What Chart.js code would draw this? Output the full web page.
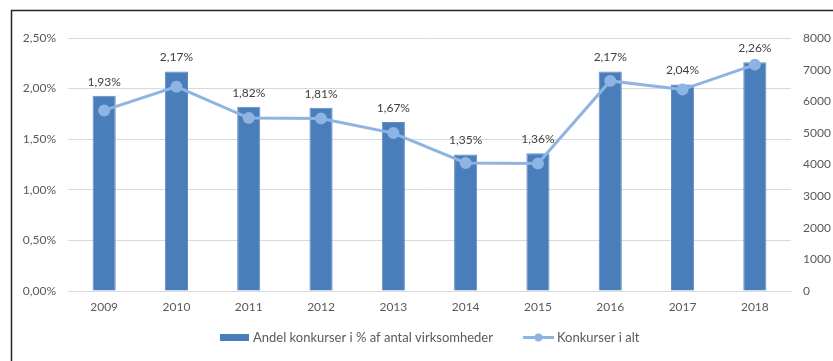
<!DOCTYPE html>
<html>
<head>
<meta charset="utf-8">
<script src="https://cdn.jsdelivr.net/npm/chart.js@4.4.0/dist/chart.umd.min.js"></script>
<style>
  html, body { margin: 0; padding: 0; background: #fff; }
  canvas { display: block; }
</style>
</head>
<body>
<canvas id="konkursChart" width="833" height="361"></canvas>
<script>
const years = ['2009', '2010', '2011', '2012', '2013', '2014', '2015', '2016', '2017', '2018'];
const andelPct = [1.93, 2.17, 1.82, 1.81, 1.67, 1.35, 1.36, 2.17, 2.04, 2.26];
const konkurserIAlt = [5710, 6461, 5468, 5456, 4993, 4049, 4029, 6643, 6369, 7158];
const pctTicks = [0, 0.5, 1, 1.5, 2, 2.5];

const FONT = 'Lato, "Open Sans", sans-serif';
const fmtPct = v => v.toFixed(2).replace('.', ',') + '%';

// frame lines, value labels above bars and a hand-drawn legend
const extras = {
  id: 'extras',
  beforeDraw(chart) {
    const ctx = chart.ctx;
    ctx.save();
    ctx.fillStyle = '#fff';
    ctx.fillRect(0, 0, chart.width, chart.height);
    ctx.strokeStyle = '#262626';
    ctx.lineWidth = 1.5;
    ctx.beginPath();
    ctx.moveTo(11.5, chart.height);
    ctx.lineTo(11.5, 10.5);
    ctx.lineTo(chart.width, 10.5);
    ctx.stroke();
    ctx.restore();
  },
  afterDatasetsDraw(chart) {
    const ctx = chart.ctx;
    const bars = chart.getDatasetMeta(0).data;
    ctx.save();
    ctx.font = '12px ' + FONT;
    ctx.fillStyle = '#404040';
    ctx.textAlign = 'center';
    ctx.textBaseline = 'middle';
    bars.forEach((bar, i) => {
      ctx.fillText(fmtPct(andelPct[i]), bar.x, bar.y - 14);
    });

    // legend
    const barDs = chart.data.datasets[0];
    const lineDs = chart.data.datasets[1];
    const ly = 337.5;
    ctx.font = '13px ' + FONT;
    ctx.textAlign = 'left';
    ctx.fillStyle = barDs.backgroundColor;
    ctx.fillRect(220, ly - 3.5, 29, 7);
    ctx.fillStyle = '#595959';
    ctx.fillText(barDs.label, 253, ly);

    ctx.strokeStyle = lineDs.borderColor;
    ctx.lineWidth = lineDs.borderWidth;
    ctx.beginPath();
    ctx.moveTo(523, ly);
    ctx.lineTo(554, ly);
    ctx.stroke();
    ctx.fillStyle = lineDs.pointBackgroundColor;
    ctx.beginPath();
    ctx.arc(538.5, ly, 4, 0, Math.PI * 2);
    ctx.fill();
    ctx.fillStyle = '#595959';
    ctx.fillText(lineDs.label, 557, ly);
    ctx.restore();
  }
};

const ctx = document.getElementById('konkursChart');
const chart = new Chart(ctx, {
  type: 'bar',
  data: {
    labels: years,
    datasets: [{
      label: 'Andel konkurser i % af antal virksomheder',
      data: andelPct,
      yAxisID: 'y',
      backgroundColor: '#4a7ebb',
      borderColor: '#5f8cc3',
      borderWidth: 1,
      barPercentage: 0.32,
      categoryPercentage: 1,
      order: 1
    }, {
      type: 'line',
      label: 'Konkurser i alt',
      data: konkurserIAlt,
      yAxisID: 'y1',
      borderColor: '#8db4e2',
      backgroundColor: '#8db4e2',
      pointBackgroundColor: '#8db4e2',
      pointBorderColor: '#8db4e2',
      borderWidth: 3,
      pointRadius: 4.5,
      tension: 0,
      order: 0
    }]
  },
  options: {
    responsive: false,
    devicePixelRatio: 1,
    animation: false,
    layout: { padding: { top: 38, bottom: 40, left: 0, right: 0 } },
    plugins: {
      legend: { display: false },
      tooltip: { enabled: false }
    },
    scales: {
      x: {
        grid: { display: false, drawTicks: false },
        border: { color: '#d9d9d9', width: 1 },
        ticks: { color: '#595959', font: { family: FONT, size: 12 }, padding: 9, maxRotation: 0 },
        afterFit(scale) { scale.height = 30; }
      },
      y: {
        position: 'left',
        min: 0,
        max: 2.5,
        afterBuildTicks(scale) { scale.ticks = pctTicks.map(v => ({ value: v })); },
        grid: { color: '#d9d9d9', drawTicks: false },
        border: { display: false },
        ticks: {
          color: '#595959',
          font: { family: FONT, size: 12 },
          padding: 12,
          callback: v => fmtPct(v)
        },
        afterFit(scale) { scale.width = 68; }
      },
      y1: {
        position: 'right',
        min: 0,
        max: 8000,
        grid: { display: false, drawTicks: false },
        border: { display: false },
        ticks: {
          stepSize: 1000,
          color: '#595959',
          font: { family: FONT, size: 12 },
          padding: 12,
          callback: v => String(v)
        },
        afterFit(scale) { scale.width = 42; }
      }
    }
  },
  plugins: [extras]
});
</script>
</body>
</html>
